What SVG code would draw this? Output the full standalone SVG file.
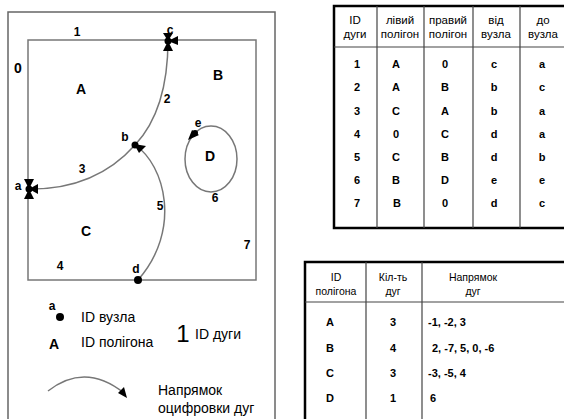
<svg xmlns="http://www.w3.org/2000/svg" width="564" height="419" viewBox="0 0 564 419">
  <style>
    text { font-family: "Liberation Sans", Arial, sans-serif; fill: #000; }
    .frame { fill: none; stroke: #666; stroke-width: 1.5; }
    .arc { fill: none; stroke: #777; stroke-width: 1.5; }
    .lbl { font-size: 12px; font-weight: bold; text-anchor: middle; }
    .poly { font-size: 14px; font-weight: bold; text-anchor: middle; }
    .leg { font-size: 14px; }
    .tb { fill: none; stroke: #000; stroke-width: 2.5; }
    .tl { stroke: #444; stroke-width: 1.2; }
    .th { font-size: 11.5px; text-anchor: middle; }
    .th2 { font-size: 10.5px; text-anchor: middle; }
    .td { font-size: 11px; font-weight: bold; text-anchor: middle; }
    .td2 { font-size: 11px; font-weight: bold; }
    .node { fill: #000; }
  </style>

  <!-- map frame -->
  <rect class="frame" x="8" y="12" width="267" height="420"/>

  <g id="connectors">
    <!-- arcs 1, 4, 7 run along the inner boundary -->
    <rect class="arc" x="28" y="40" width="228" height="240"/>
    <path id="arc2" class="arc" d="M135,145 Q168,110 168,40"/>
    <path id="arc3" class="arc" d="M135,145 Q95,190 28,189"/>
    <path id="arc5" class="arc" d="M138,280 C182,230 165,165 135,145"/>
    <ellipse id="arc6" class="arc" cx="211" cy="159" rx="26" ry="33"/>
  </g>

  <!-- arc ids -->
  <g id="arc-labels">
    <text class="lbl" x="77" y="36">1</text>
    <text class="lbl" x="167" y="103">2</text>
    <text class="lbl" x="82" y="173">3</text>
    <text class="lbl" x="60" y="270">4</text>
    <text class="lbl" x="160" y="210">5</text>
    <text class="lbl" x="215" y="202">6</text>
    <text class="lbl" x="247" y="249">7</text>
  </g>

  <!-- polygons -->
  <g id="poly-0"><text class="poly" x="18" y="73">0</text></g>
  <g id="poly-A"><text class="poly" x="81" y="94">A</text></g>
  <g id="poly-B"><text class="poly" x="218" y="80">B</text></g>
  <g id="poly-C"><text class="poly" x="86" y="236">C</text></g>
  <g id="poly-D"><text class="poly" x="210" y="161">D</text></g>

  <!-- nodes -->
  <g id="node-a">
    <circle class="node" cx="29" cy="189" r="3.5"/>
    <polygon class="node" points="29,189 24,179 34,179"/>
    <polygon class="node" points="29,189 24,199 34,199"/>
    <polygon class="node" points="29,189 38,184 38,194"/>
    <text class="lbl" x="18" y="190">a</text>
  </g>
  <g id="node-b">
    <circle class="node" cx="135" cy="145" r="3.5"/>
    <polygon class="node" points="134,144 146,146 139,153"/>
    <text class="lbl" x="125" y="141">b</text>
  </g>
  <g id="node-c">
    <circle class="node" cx="168" cy="41" r="3.5"/>
    <polygon class="node" points="168,41 163,33 173,33"/>
    <polygon class="node" points="168,41 163,51 173,51"/>
    <polygon class="node" points="168,41 178,36 178,45"/>
    <text class="lbl" x="170" y="34">c</text>
  </g>
  <g id="node-d">
    <circle class="node" cx="138" cy="280" r="4"/>
    <text class="lbl" x="136" y="273">d</text>
  </g>
  <g id="node-e">
    <polygon class="node" points="188,140 192,130 199,135"/>
    <circle class="node" cx="195" cy="133" r="3"/>
    <text class="lbl" x="198" y="127">e</text>
  </g>

  <!-- legend -->
  <g id="legend">
    <text class="lbl" x="52" y="310">a</text>
    <circle class="node" cx="60" cy="317" r="4"/>
    <text class="leg" x="81" y="322">ID вузла</text>
    <text class="poly" x="54" y="349">A</text>
    <text class="leg" x="81" y="347">ID полігона</text>
    <text x="183" y="342" font-size="24" text-anchor="middle">1</text>
    <text class="leg" x="195" y="339">ID дуги</text>
    <path class="arc" d="M48,391 Q85,362 124,393"/>
    <polygon class="node" points="127,398 118,393 124,387"/>
    <text class="leg" x="158" y="395">Напрямок</text>
    <text class="leg" x="158" y="413">оцифровки дуг</text>
  </g>

  <!-- arc table -->
  <g id="arc-table">
    <rect class="tb" x="334" y="6" width="240" height="222"/>
    <line class="tl" x1="334" y1="47" x2="574" y2="47"/>
    <line class="tl" x1="377" y1="6" x2="377" y2="228"/>
    <line class="tl" x1="424" y1="6" x2="424" y2="228"/>
    <line class="tl" x1="473" y1="6" x2="473" y2="228"/>
    <line class="tl" x1="520" y1="6" x2="520" y2="228"/>
    <text class="th" x="355" y="24">ID</text>
    <text class="th" x="355" y="38">дуги</text>
    <text class="th" x="400" y="24">лівий</text>
    <text class="th" x="400" y="38">полігон</text>
    <text class="th" x="448" y="24">правий</text>
    <text class="th" x="448" y="38">полігон</text>
    <text class="th" x="496" y="24">від</text>
    <text class="th" x="496" y="38">вузла</text>
    <text class="th" x="543" y="24">до</text>
    <text class="th" x="543" y="38">вузла</text>

    <text class="td" x="357" y="68">1</text><text class="td" x="396" y="68">A</text><text class="td" x="445" y="68">0</text><text class="td" x="494" y="68">c</text><text class="td" x="542" y="68">a</text>
    <text class="td" x="357" y="91">2</text><text class="td" x="396" y="91">A</text><text class="td" x="445" y="91">B</text><text class="td" x="494" y="91">b</text><text class="td" x="542" y="91">c</text>
    <text class="td" x="357" y="115">3</text><text class="td" x="396" y="115">C</text><text class="td" x="445" y="115">A</text><text class="td" x="494" y="115">b</text><text class="td" x="542" y="115">a</text>
    <text class="td" x="357" y="138">4</text><text class="td" x="396" y="138">0</text><text class="td" x="445" y="138">C</text><text class="td" x="494" y="138">d</text><text class="td" x="542" y="138">a</text>
    <text class="td" x="357" y="161">5</text><text class="td" x="396" y="161">C</text><text class="td" x="445" y="161">B</text><text class="td" x="494" y="161">d</text><text class="td" x="542" y="161">b</text>
    <text class="td" x="357" y="184">6</text><text class="td" x="396" y="184">B</text><text class="td" x="445" y="184">D</text><text class="td" x="494" y="184">e</text><text class="td" x="542" y="184">e</text>
    <text class="td" x="357" y="207">7</text><text class="td" x="397" y="207">B</text><text class="td" x="445" y="207">0</text><text class="td" x="494" y="207">d</text><text class="td" x="542" y="207">c</text>
  </g>

  <!-- polygon table -->
  <g id="polygon-table">
    <rect class="tb" x="305" y="262" width="270" height="170"/>
    <line class="tl" x1="305" y1="302" x2="575" y2="302"/>
    <line class="tl" x1="366" y1="262" x2="366" y2="432"/>
    <line class="tl" x1="422" y1="262" x2="422" y2="432"/>
    <text class="th2" x="336" y="281">ID</text>
    <text class="th2" x="336" y="295">полігона</text>
    <text class="th2" x="393" y="281">Кіл-ть</text>
    <text class="th2" x="393" y="295">дуг</text>
    <text class="th2" x="473" y="281">Напрямок</text>
    <text class="th2" x="473" y="295">дуг</text>

    <text class="td" x="330" y="326">A</text><text class="td" x="393" y="326">3</text><text class="td2" x="428" y="326">-1,  -2,  3</text>
    <text class="td" x="330" y="352">B</text><text class="td" x="393" y="352">4</text><text class="td2" x="432" y="352">2,  -7,  5,  0,  -6</text>
    <text class="td" x="330" y="377">C</text><text class="td" x="393" y="377">3</text><text class="td2" x="428" y="377">-3,  -5,  4</text>
    <text class="td" x="330" y="402">D</text><text class="td" x="393" y="402">1</text><text class="td2" x="430" y="402">6</text>
  </g>
</svg>
